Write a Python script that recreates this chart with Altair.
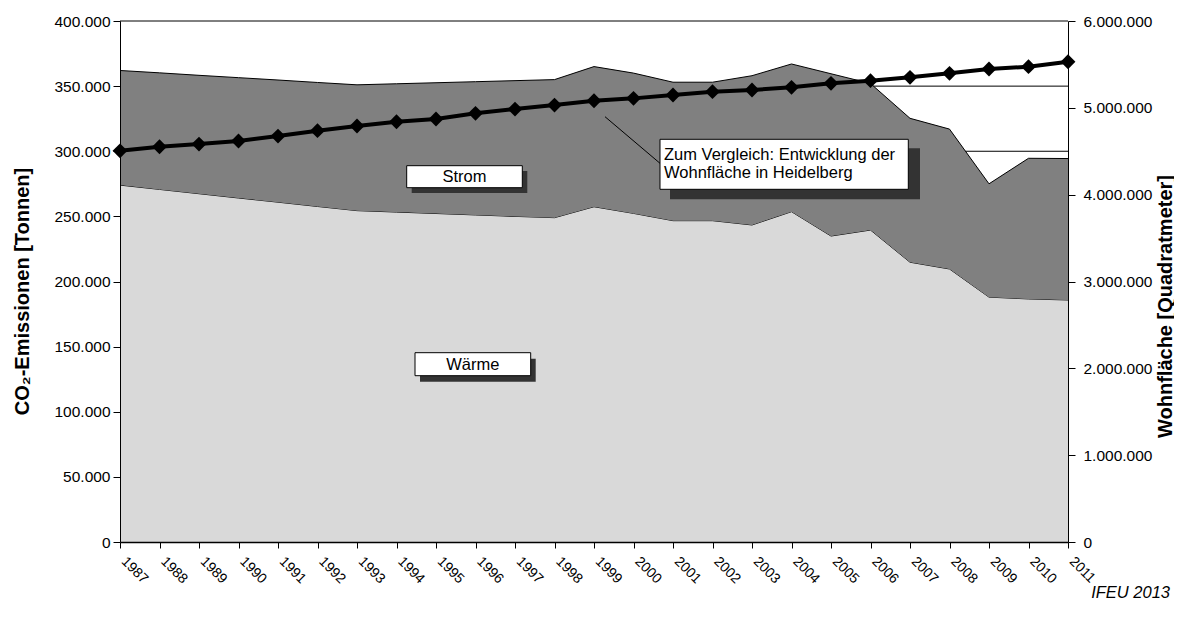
import altair as alt
import pandas as pd

# ---- data ----
jahre = list(range(1987, 2012))
waerme = [274000, 270700, 267400, 264100, 260900, 257600, 254400, 253300, 252200,
          251100, 250000, 249000, 257400, 252300, 246700, 246700, 243400, 253600,
          234900, 239500, 214800, 209600, 188000, 186600, 185800]
gesamt = [362000, 360200, 358300, 356500, 354700, 352800, 351000, 351800, 352600,
          353400, 354200, 355000, 365000, 360000, 353000, 353000, 358000, 367000,
          359500, 352000, 325300, 317000, 275000, 294600, 294400]
wohnflaeche = [4505000, 4552000, 4583000, 4618000, 4675000, 4737000, 4791000, 4840000,
               4871000, 4937000, 4986000, 5032000, 5082000, 5109000, 5148000, 5186000,
               5205000, 5236000, 5282000, 5313000, 5351000, 5397000, 5447000, 5474000,
               5531000]
ticks_links = [0, 50000, 100000, 150000, 200000, 250000, 300000, 350000, 400000]
ticks_rechts = [0, 1000000, 2000000, 3000000, 4000000, 5000000, 6000000]
label_strom = "Strom"
label_waerme = "Wärme"
label_vergleich = ["Zum Vergleich: Entwicklung der", "Wohnfläche in Heidelberg"]
titel_links = "CO₂-Emissionen [Tonnen]"
titel_rechts = "Wohnfläche [Quadratmeter]"
quelle = "IFEU 2013"

df = pd.DataFrame({"Jahr": jahre, "Waerme": waerme, "Gesamt": gesamt,
                   "Wohnflaeche": wohnflaeche})
grid_df = pd.DataFrame({"t": ticks_links[1:]})
one = pd.DataFrame({"a": [0]})

FONT = "Liberation Sans"
fmt = "replace(format(datum.value, ','), /,/g, '.')"

x_enc = alt.X(
    "Jahr:Q",
    scale=alt.Scale(domain=[1987, 2011], nice=False, zero=False),
    axis=alt.Axis(values=jahre, format="d", labelAngle=45, labelAlign="left",
                  labelBaseline="top", labelFontSize=14, labelFont=FONT,
                  labelColor="black", labelPadding=6, labelOffset=8,
                  tickSize=6, tickColor="black",
                  domainColor="black", domainWidth=1.5, title=None, grid=False,
                  labelOverlap=False, labelFlush=False, zindex=1),
)

left_axis = alt.Axis(values=ticks_links, labelExpr=fmt, title=titel_links,
                     titleFontSize=20, titleFont=FONT, titleFontWeight="bold",
                     titleColor="black", titleAngle=270, titleX=-98, titleY=270,
                     titleAlign="center", titleBaseline="middle",
                     labelFontSize=15.5, labelFont=FONT, labelColor="black",
                     labelPadding=3, tickSize=7, tickColor="black",
                     domainColor="black", grid=False, zindex=1)
left_scale = alt.Scale(domain=[0, 400000], nice=False)

right_axis = alt.Axis(orient="right", values=ticks_rechts, labelExpr=fmt,
                      title=titel_rechts, titleFontSize=20, titleFont=FONT,
                      titleFontWeight="bold", titleColor="black", titleAngle=270,
                      titleX=97, titleY=285, titleAlign="center",
                      titleBaseline="middle", labelFontSize=15.5, labelFont=FONT,
                      labelColor="black", labelPadding=8, tickSize=7,
                      tickColor="black", domainColor="black", grid=False, zindex=1)
right_scale = alt.Scale(domain=[0, 6000000], nice=False)

grid = alt.Chart(grid_df).mark_rule(color="black", strokeWidth=1).encode(
    y=alt.Y("t:Q", scale=left_scale, axis=left_axis))

area_w = alt.Chart(df).mark_area(
    color="#d9d9d9", opacity=1, line={"color": "black", "strokeWidth": 1}
).encode(x=x_enc, y=alt.Y("Waerme:Q", scale=left_scale, axis=left_axis))

area_s = alt.Chart(df).mark_area(
    color="#808080", opacity=1, line={"color": "black", "strokeWidth": 1}
).encode(x=x_enc, y=alt.Y("Gesamt:Q", scale=left_scale, axis=left_axis),
         y2="Waerme:Q")

left = alt.layer(grid, area_w, area_s)

line = alt.Chart(df).mark_line(
    color="black", strokeWidth=4,
    point=alt.OverlayMarkDef(shape="diamond", size=220, filled=True, color="black",
                             opacity=1)
).encode(x=x_enc, y=alt.Y("Wohnflaeche:Q", scale=right_scale, axis=right_axis))


def rect(x1, y1, x2, y2, fill, stroke=None):
    kw = {"fill": fill}
    if stroke:
        kw.update(stroke=stroke, strokeWidth=1)
    return alt.Chart(one).mark_rect(**kw).encode(
        x=alt.value(x1), x2=alt.value(x2), y=alt.value(y1), y2=alt.value(y2))


def txt(x, y, t, align="center", lh=None):
    kw = dict(font=FONT, fontSize=16.5, color="black", align=align, baseline="middle")
    if lh:
        kw["lineHeight"] = lh
    return alt.Chart(one).mark_text(**kw).encode(
        x=alt.value(x), y=alt.value(y), text=alt.value(t))


leader = alt.Chart(one).mark_rule(color="black", strokeWidth=1).encode(
    x=alt.value(485), y=alt.value(95.7), x2=alt.value(540), y2=alt.value(142.3))

annots = [
    rect(291.7, 150, 407.3, 172, "#333333"),
    rect(286.7, 144.7, 402.3, 166.7, "white", "black"),
    txt(344.5, 156, label_strom),
    rect(300, 337.7, 415.7, 360.7, "#333333"),
    rect(295, 331.7, 410.7, 354.7, "white", "black"),
    txt(352.8, 343.5, label_waerme),
    leader,
    rect(550, 127.3, 800, 178.3, "#333333"),
    rect(540, 118.3, 788.3, 168.3, "white", "black"),
    txt(544, 133.5, label_vergleich, align="left", lh=18.7),
    alt.Chart(one).mark_text(font=FONT, fontSize=16.5, fontStyle="italic",
                             color="black", align="right", baseline="middle").encode(
        x=alt.value(1050), y=alt.value(572), text=alt.value(quelle)),
]

chart = alt.layer(left, line, *annots).resolve_scale(y="independent").properties(
    width=948, height=521,
    autosize=alt.AutoSizeParams(type="none"),
    padding={"left": 112, "top": 13, "right": 106, "bottom": 64},
    background="white",
).configure_view(stroke=None)

chart.save("out.html", embed_options={"renderer": "svg", "actions": False})
